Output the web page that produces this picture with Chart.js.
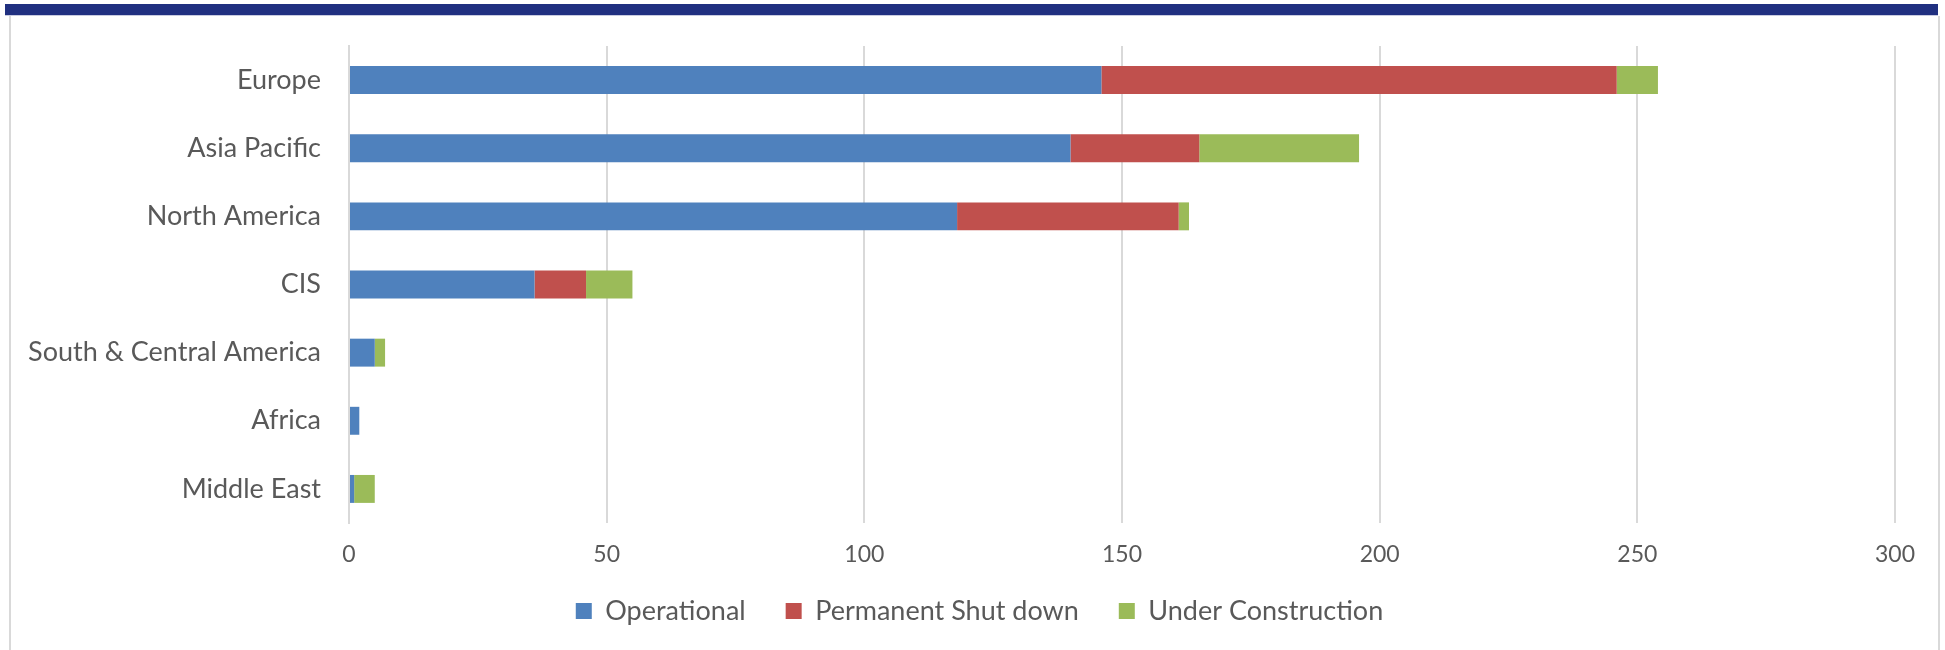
<!DOCTYPE html>
<html>
<head>
<meta charset="utf-8">
<script src="https://cdn.jsdelivr.net/npm/chart.js@4.4.1/dist/chart.umd.min.js"></script>
<style>
  html, body { margin: 0; padding: 0; background: #fff; }
  #wrap { position: relative; width: 1945px; height: 650px; overflow: hidden; }
  #topbar { position: absolute; left: 5px; top: 4px; width: 1933px; height: 11px; background: #203080; border-bottom: 1px solid #c8cbe0; }
  #frame { position: absolute; left: 9px; top: 16px; width: 1927px; height: 640px; border-left: 2px solid #d9d9d9; border-right: 2px solid #d9d9d9; }
  #chart-canvas { position: absolute; left: 0; top: 0; }
</style>
</head>
<body>
<div id="wrap">
  <div id="topbar"></div>
  <div id="frame"></div>
  <canvas id="chart-canvas" width="1945" height="650"></canvas>
</div>
<script>
var regions = ["Europe", "Asia Pacific", "North America", "CIS", "South & Central America", "Africa", "Middle East"];
var operational = [146, 140, 118, 36, 5, 2, 1];
var shutDown = [100, 25, 43, 10, 0, 0, 0];
var underConstruction = [8, 31, 2, 9, 2, 0, 4];
var xTicks = [0, 50, 100, 150, 200, 250, 300];

var textColor = "#595959";
var gridColor = "#d9d9d9";
var legendPad = 40;

var ctx1 = document.getElementById("chart-canvas");

var data1 = {
	labels : regions,
	datasets : [
		{
			label : "Operational",
			data : operational,
			backgroundColor : "#4f81bd"
		},
		{
			label : "Permanent Shut down",
			data : shutDown,
			backgroundColor : "#c0504d"
		},
		{
			label : "Under Construction",
			data : underConstruction,
			backgroundColor : "#9bbb59"
		}
	]
};

// legend in the original sits a bit right of centre and closer to the ticks
var shiftLegend = {
	id : "shiftLegend",
	afterLayout : function(chart) {
		var lg = chart.legend;
		var h = lg.bottom - lg.top;
		lg.left += 27;
		lg.right += 27;
		lg.top = 611 - legendPad - 13.5;
		lg.bottom = lg.top + h;
	}
};

var options1 = {
	indexAxis : "y",
	responsive : false,
	animation : false,
	devicePixelRatio : 1,
	datasets : {
		bar : {
			categoryPercentage : 1,
			barPercentage : 0.41,
			borderWidth : 0
		}
	},
	layout : {
		padding : { left : 10, right : 50, top : 46, bottom : 6 }
	},
	scales : {
		x : {
			stacked : true,
			min : 0,
			max : 300,
			afterBuildTicks : function(scale) {
				scale.ticks = xTicks.map(function(v) { return { value : v }; });
			},
			afterFit : function(scale) { scale.height = 44; },
			grid : { color : gridColor, lineWidth : 2, drawTicks : false },
			border : { display : false },
			ticks : {
				padding : 20,
				color : textColor,
				font : { family : "Lato", size : 23, lineHeight : 1 }
			}
		},
		y : {
			stacked : true,
			afterFit : function(scale) { scale.width = 339; },
			grid : { display : false, drawTicks : false },
			border : { display : true, color : gridColor, width : 2 },
			ticks : {
				padding : 28,
				color : textColor,
				font : { family : "Lato", size : 27 }
			}
		}
	},
	plugins : {
		legend : {
			display : true,
			position : "bottom",
			labels : {
				boxWidth : 16,
				boxHeight : 16,
				padding : legendPad,
				color : textColor,
				font : { family : "Lato", size : 27 }
			}
		},
		tooltip : { enabled : false }
	}
};

var chart1 = new Chart(ctx1, {
	type : "bar",
	data : data1,
	options : options1,
	plugins : [shiftLegend]
});
</script>
</body>
</html>
